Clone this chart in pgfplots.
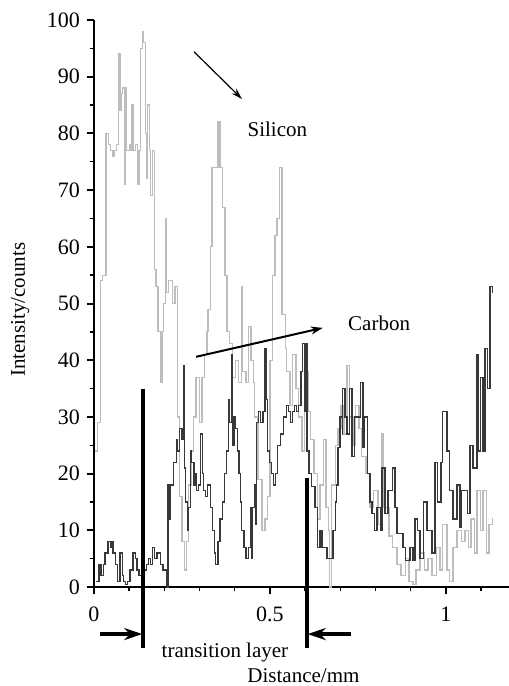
\documentclass[border=0pt]{standalone}
\usepackage{pgfplots}
\pgfplotsset{compat=1.18}
\usepackage{fontspec}
\setmainfont{Liberation Serif}
\usetikzlibrary{arrows.meta,calc}
\definecolor{sicol}{gray}{0.74}
\definecolor{ccol}{gray}{0.22}

\pgfplotstableread{
x y
0.004 24
0.010 29
0.018 54
0.024 55
0.034 80
0.042 78
0.048 77
0.054 76
0.058 77
0.064 78
0.070 94
0.074 84
0.078 87
0.082 88
0.086 71
0.088 88
0.092 77
0.100 78
0.104 77
0.108 85
0.111 77
0.118 78
0.124 71
0.128 77
0.132 95
0.138 98
0.141 96
0.147 80
0.150 72
0.153 85
0.157 77
0.161 69
0.166 77
0.172 56
0.176 53
0.182 45
0.188 36
0.193 45
0.198 50
0.203 65
0.207 52
0.212 54
0.222 50
0.230 53
0.238 30
0.244 16
0.250 8
0.256 3
0.262 8
0.268 18
0.276 24
0.282 30
0.290 37
0.300 29
0.307 37
0.315 41
0.321 45
0.324 49
0.330 60
0.335 74
0.344 74
0.352 82
0.358 74
0.364 67
0.372 55
0.378 45
0.386 43
0.394 37
0.401 40
0.410 36
0.420 53
0.423 38
0.432 36
0.438 46
0.446 40
0.452 36
0.457 30
0.466 19
0.477 10
0.486 12
0.494 16
0.500 40
0.506 55
0.514 62
0.520 65
0.526 74
0.534 48
0.543 42
0.548 38
0.557 32
0.565 41
0.574 35
0.582 30
0.591 24
0.599 38
0.608 31
0.616 26
0.625 20
0.634 12
0.642 18
0.651 26
0.659 14
0.666 10
0.670 0
0.674 18
0.685 25
0.693 28
0.702 32
0.710 27
0.719 39
0.727 30
0.736 25
0.744 32
0.753 28
0.761 23
0.773 20
0.784 14
0.795 17
0.807 11
0.818 27
0.823 14
0.838 9
0.849 7
0.861 4
0.872 2
0.884 5
0.895 1
0.906 0.5
0.915 3
0.926 6
0.938 3
0.949 5
0.960 2
0.972 7
0.983 3
0.991 11
1.003 3
1.011 1
1.020 7
1.031 10
1.043 8
1.054 10
1.063 7
1.071 12
1.080 6
1.088 17
1.097 10
1.105 17
1.114 6
1.122 11
1.131 12
1.134 12
}\sitable

\pgfplotstableread{
x y
0.006 1
0.014 4
0.020 2
0.026 4
0.031 6
0.040 8
0.046 7
0.050 8
0.054 6
0.060 4
0.066 1
0.074 6
0.080 2
0.084 1
0.090 0.5
0.096 1
0.102 3
0.111 6
0.117 5
0.122 3
0.128 2
0.134 4
0.139 5
0.144 3
0.150 4
0.155 5
0.160 4
0.166 7
0.172 5
0.179 6
0.188 4
0.196 3
0.205 0
0.210 18
0.214 12
0.218 18
0.226 22
0.234 26
0.238 24
0.244 28
0.250 26
0.254 39
0.258 21
0.261 15
0.265 10
0.268 14
0.274 24
0.278 22
0.284 18
0.288 20
0.292 17
0.298 18
0.303 27
0.308 20
0.312 17
0.316 16
0.322 18
0.330 14
0.336 10
0.342 6
0.346 4
0.352 8
0.358 12
0.364 15
0.370 20
0.376 24
0.382 33
0.386 29
0.390 41
0.394 25
0.398 30
0.402 28
0.408 24
0.412 20
0.416 15
0.420 10
0.426 7
0.432 5
0.438 7
0.444 14
0.448 5
0.451 14
0.455 18
0.459 11
0.462 29
0.468 31
0.474 29
0.480 31
0.486 42
0.489 33
0.492 24
0.498 22
0.504 20
0.510 18
0.516 20
0.522 25
0.530 27
0.538 30
0.546 32
0.552 31
0.558 29
0.564 31
0.570 32
0.576 31
0.582 32
0.588 38
0.593 43
0.597 31
0.600 43
0.605 24
0.611 20
0.619 17.7
0.628 14
0.634 9.4
0.636 7
0.642 10
0.648 7
0.656 7
0.662 5
0.670 5
0.679 10
0.685 15
0.688 18
0.690 18
0.693 24.6
0.699 30
0.705 27
0.707 35
0.713 30
0.719 27
0.727 35
0.733 23
0.740 30
0.747 30
0.756 36
0.764 24.6
0.768 30
0.776 20
0.784 15
0.790 13
0.798 10
0.804 14
0.813 10
0.818 21
0.827 13
0.835 17
0.847 21
0.855 14
0.861 9.4
0.878 7
0.886 4.7
0.898 7
0.906 4.7
0.912 12
0.920 10
0.926 5
0.935 15
0.946 10
0.955 10
0.960 6
0.969 22
0.977 15
0.986 22
0.991 31
1.003 24
1.011 17
1.020 12
1.031 18
1.040 10.6
1.045 17
1.060 13
1.068 25
1.077 21
1.088 41
1.091 24
1.097 37
1.105 24
1.111 42
1.119 35
1.125 53
1.131 52
1.134 52
}\ctable

\begin{document}
\begin{tikzpicture}
\begin{axis}[
  scale only axis,
  width=207.5pt, height=283.5pt,
  xmin=0, xmax=1.179, ymin=0, ymax=100,
  axis lines=left,
  axis line style={-, line width=1pt},
  xtick={0,0.5,1},
  minor xtick={0.1,0.2,0.3,0.4,0.6,0.7,0.8,0.9,1.1},
  ytick={0,10,...,100},
  minor ytick={5,15,...,95},
  tick align=outside,
  major tick length=3.5pt,
  minor tick length=2.2pt,
  every major tick/.style={black, line width=1pt},
  every minor tick/.style={black, line width=0.7pt},
  /pgf/number format/assume math mode=true,
  tick label style={font=\fontsize{11}{13}\selectfont},
  xticklabel style={yshift=-3pt},
  clip=false,
]
\addplot[const plot mark left, sicol, line width=0.6pt] table[x=x,y=y] {\sitable};
\addplot[const plot mark left, ccol, line width=0.6pt] table[x=x,y=y] {\ctable};

\coordinate (O) at (rel axis cs:0,0);
\coordinate (T) at (rel axis cs:1,1);

\draw[line width=2pt] (axis cs:0.139,35) -- (axis cs:0.139,-10.8);
\draw[line width=2pt] (axis cs:0.605,19.2) -- (axis cs:0.605,-10.8);
\draw[line width=1.8pt, -{Stealth[length=9pt,width=6pt]}] (axis cs:0.017,-8.3) -- (axis cs:0.137,-8.3);
\draw[line width=1.8pt, -{Stealth[length=9pt,width=6pt]}] (axis cs:0.730,-8.3) -- (axis cs:0.607,-8.3);

\draw[line width=0.6pt, -{Stealth[length=5.5pt,width=3.5pt]}] (axis cs:0.284,94.4) -- (axis cs:0.42,86.1);
\draw[line width=1pt, -{Stealth[length=6pt,width=4pt]}] (axis cs:0.29,40.6) -- (axis cs:0.65,45.7);

\node[anchor=base, font=\fontsize{10.5}{12}\selectfont] at (axis cs:0.521,79.4) {Silicon};
\node[anchor=base, font=\fontsize{10.5}{12}\selectfont] at (axis cs:0.810,45.3) {Carbon};
\node[anchor=base, font=\fontsize{10.5}{12}\selectfont] at (axis cs:0.372,-12.5) {transition layer};
\node[anchor=base, font=\fontsize{10.5}{12}\selectfont] at (axis cs:0.595,-16.9) {Distance/mm};
\node[rotate=90, font=\fontsize{10.5}{12}\selectfont] at (axis cs:-0.210,48.9) {Intensity/counts};
\end{axis}
\pgfresetboundingbox
\path ($(O)+(-47pt,-49.5pt)$) rectangle ($(T)+(0pt,10pt)$);
\end{tikzpicture}
\end{document}
